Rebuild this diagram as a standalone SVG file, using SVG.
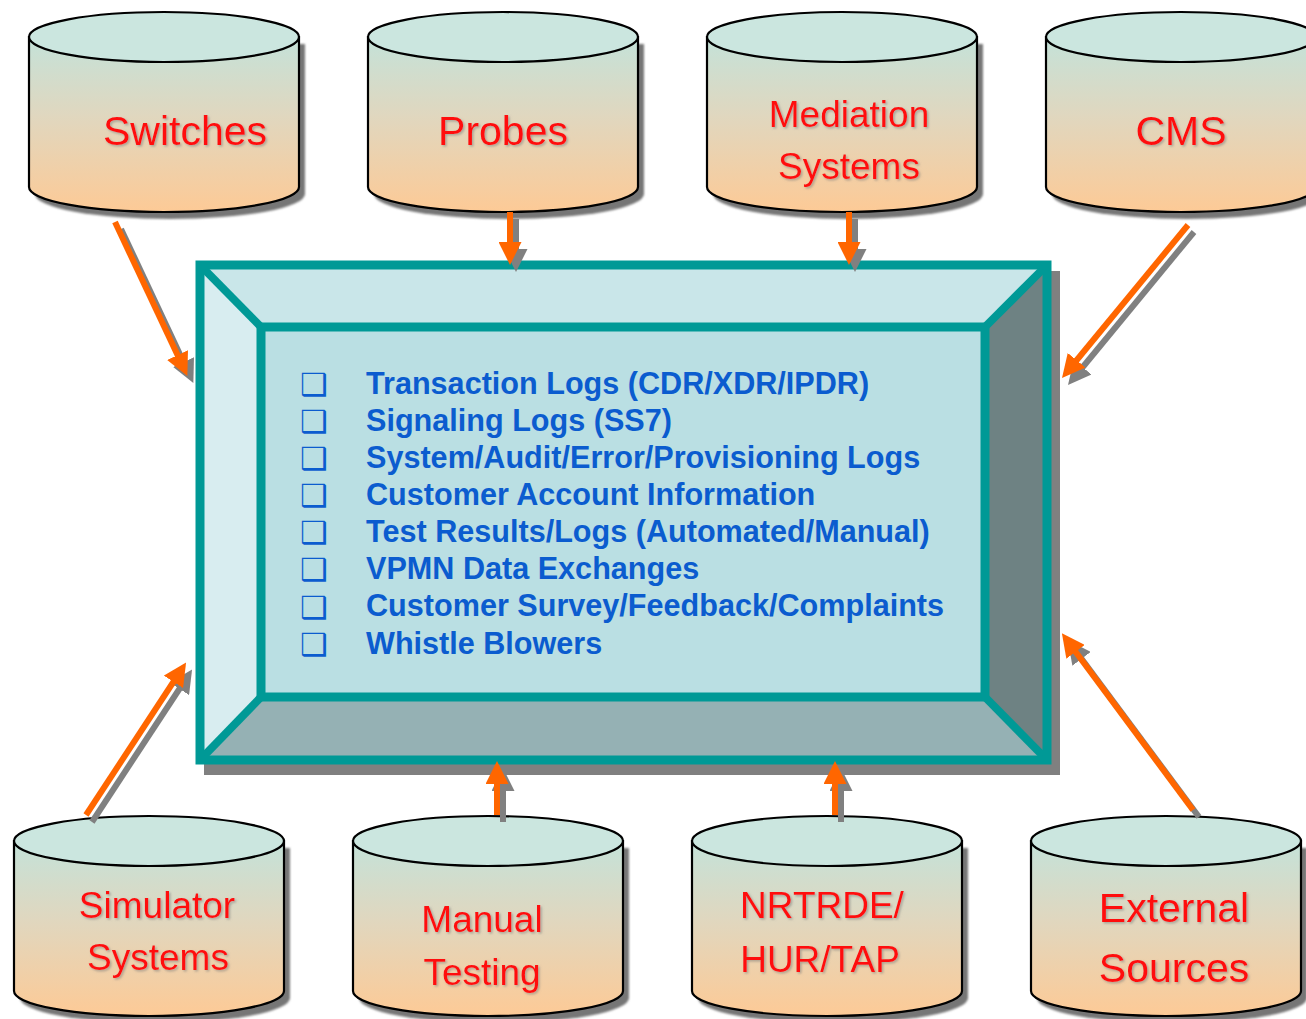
<svg xmlns="http://www.w3.org/2000/svg" width="1306" height="1019" viewBox="0 0 1306 1019">
  <style>
    .cyl-body { fill: url(#cylGrad); stroke: #000; stroke-width: 2.2; }
    .cyl-top { fill: #cbe6df; stroke: #000; stroke-width: 2.2; }
    .cyl-shadow { fill: #767676; filter: url(#soft); }
    .label { font-family: "Liberation Sans", Arial, sans-serif; fill: #ff1010; text-anchor: middle; filter: url(#txtShadow); }
    .big { font-size: 41px; }
    .mid { font-size: 37px; }
    .item { font-family: "Liberation Sans", Arial, sans-serif; font-weight: bold; font-size: 30.6px; fill: #0b5ccf; }
    .bullet { font-family: "DejaVu Sans", sans-serif; font-size: 31px; fill: #0b5ccf; }
    .edge { stroke: #009996; stroke-width: 9; fill: none; }
    .diag { stroke: #009996; stroke-width: 8; }
    .arrow { stroke: #ff6600; stroke-width: 6; fill: none; marker-end: url(#headOrange); }
    .arrow-sh { stroke: #808080; stroke-width: 6; fill: none; marker-end: url(#headGrey); }
  </style>
  <defs>
    <linearGradient id="cylGrad" x1="0" y1="0" x2="0" y2="1">
      <stop offset="0" stop-color="#c4e2d9"/>
      <stop offset="0.45" stop-color="#e0d7bf"/>
      <stop offset="1" stop-color="#fdca96"/>
    </linearGradient>
    <filter id="soft" x="-10%" y="-10%" width="120%" height="120%">
      <feGaussianBlur stdDeviation="1.2"/>
    </filter>
    <filter id="txtShadow" x="-10%" y="-10%" width="120%" height="130%">
      <feDropShadow dx="1.5" dy="1.5" stdDeviation="0.8" flood-color="#777" flood-opacity="0.55"/>
    </filter>
    <marker id="headOrange" markerUnits="userSpaceOnUse" markerWidth="23" markerHeight="23" refX="1" refY="11.5" orient="auto">
      <path d="M0,0 L23,11.5 L0,23 Z" fill="#ff6600"/>
    </marker>
    <marker id="headGrey" markerUnits="userSpaceOnUse" markerWidth="23" markerHeight="23" refX="1" refY="11.5" orient="auto">
      <path d="M0,0 L23,11.5 L0,23 Z" fill="#808080"/>
    </marker>
    <!-- cylinder outline: 270 wide, ellipse ry 25, 150 tall between ellipse centres -->
    <path id="cylBody" d="M0,25 L0,175 A135,25 0 0 0 270,175 L270,25 Z"/>
    <ellipse id="cylTop" cx="135" cy="25" rx="135" ry="25"/>
  </defs>

  <!-- central repository box -->
  <g id="hub">
    <rect x="204" y="271" width="856" height="504" fill="#808080"/>
    <polygon points="200,265 1047,265 985,327 261,327" fill="#c9e6e9"/>
    <polygon points="200,265 261,327 261,697 200,760" fill="#d8edf0"/>
    <polygon points="1047,265 1047,760 985,697 985,327" fill="#6e8283"/>
    <polygon points="200,760 261,697 985,697 1047,760" fill="#95b1b4"/>
    <rect x="261" y="327" width="724" height="370" fill="#badfe3"/>
    <line class="diag" x1="200" y1="265" x2="261" y2="327"/>
    <line class="diag" x1="1047" y1="265" x2="985" y2="327"/>
    <line class="diag" x1="200" y1="760" x2="261" y2="697"/>
    <line class="diag" x1="1047" y1="760" x2="985" y2="697"/>
    <rect class="edge" x="200" y="265" width="847" height="495"/>
    <rect class="edge" x="261" y="327" width="724" height="370"/>
    <g class="bullet">
      <text x="300" y="395">❑</text>
      <text x="300" y="432">❑</text>
      <text x="300" y="469">❑</text>
      <text x="300" y="506">❑</text>
      <text x="300" y="543">❑</text>
      <text x="300" y="580">❑</text>
      <text x="300" y="618">❑</text>
      <text x="300" y="655">❑</text>
    </g>
    <g class="item">
      <text x="366" y="394">Transaction Logs (CDR/XDR/IPDR)</text>
      <text x="366" y="431">Signaling Logs (SS7)</text>
      <text x="366" y="468">System/Audit/Error/Provisioning Logs</text>
      <text x="366" y="505">Customer Account Information</text>
      <text x="366" y="542">Test Results/Logs (Automated/Manual)</text>
      <text x="366" y="579">VPMN Data Exchanges</text>
      <text x="366" y="616">Customer Survey/Feedback/Complaints</text>
      <text x="366" y="654">Whistle Blowers</text>
    </g>
  </g>

  <!-- data sources, top row -->
  <g id="switches" transform="translate(29,12)">
    <use href="#cylBody" class="cyl-shadow" transform="translate(6,7)"/>
    <use href="#cylBody" class="cyl-body"/>
    <use href="#cylTop" class="cyl-top"/>
    <text class="label big" x="156" y="133">Switches</text>
  </g>
  <g id="probes" transform="translate(368,12)">
    <use href="#cylBody" class="cyl-shadow" transform="translate(6,7)"/>
    <use href="#cylBody" class="cyl-body"/>
    <use href="#cylTop" class="cyl-top"/>
    <text class="label big" x="135" y="133">Probes</text>
  </g>
  <g id="mediation" transform="translate(707,12)">
    <use href="#cylBody" class="cyl-shadow" transform="translate(6,7)"/>
    <use href="#cylBody" class="cyl-body"/>
    <use href="#cylTop" class="cyl-top"/>
    <text class="label mid" x="142" y="115">Mediation</text>
    <text class="label mid" x="142" y="167">Systems</text>
  </g>
  <g id="cms" transform="translate(1046,12)">
    <use href="#cylBody" class="cyl-shadow" transform="translate(6,7)"/>
    <use href="#cylBody" class="cyl-body"/>
    <use href="#cylTop" class="cyl-top"/>
    <text class="label big" x="135" y="133">CMS</text>
  </g>

  <!-- data sources, bottom row -->
  <g id="simulator" transform="translate(14,816)">
    <use href="#cylBody" class="cyl-shadow" transform="translate(6,7)"/>
    <use href="#cylBody" class="cyl-body"/>
    <use href="#cylTop" class="cyl-top"/>
    <text class="label mid" x="143" y="102">Simulator</text>
    <text class="label mid" x="144" y="154">Systems</text>
  </g>
  <g id="manual" transform="translate(353,816)">
    <use href="#cylBody" class="cyl-shadow" transform="translate(6,7)"/>
    <use href="#cylBody" class="cyl-body"/>
    <use href="#cylTop" class="cyl-top"/>
    <text class="label mid" x="129" y="116">Manual</text>
    <text class="label mid" x="129" y="169">Testing</text>
  </g>
  <g id="nrtrde" transform="translate(692,816)">
    <use href="#cylBody" class="cyl-shadow" transform="translate(6,7)"/>
    <use href="#cylBody" class="cyl-body"/>
    <use href="#cylTop" class="cyl-top"/>
    <text class="label mid" x="130" y="102">NRTRDE/</text>
    <text class="label mid" x="128" y="156">HUR/TAP</text>
  </g>
  <g id="external" transform="translate(1031,816)">
    <use href="#cylBody" class="cyl-shadow" transform="translate(6,7)"/>
    <use href="#cylBody" class="cyl-body"/>
    <use href="#cylTop" class="cyl-top"/>
    <text class="label big" x="143" y="106">External</text>
    <text class="label big" x="143" y="166">Sources</text>
  </g>

  <!-- feeds into the central box: grey shadow first, orange on top -->
  <g id="connectors">
    <g transform="translate(6,7)">
      <line class="arrow-sh" x1="115" y1="222" x2="178" y2="356"/>
      <line class="arrow-sh" x1="510" y1="212" x2="510" y2="243"/>
      <line class="arrow-sh" x1="849" y1="212" x2="849" y2="243"/>
      <line class="arrow-sh" x1="1188" y1="225" x2="1076" y2="361"/>
      <line class="arrow-sh" x1="86" y1="815" x2="174" y2="681"/>
      <line class="arrow-sh" x1="497" y1="815" x2="497" y2="783"/>
      <line class="arrow-sh" x1="835" y1="815" x2="835" y2="783"/>
      <line class="arrow-sh" x1="1193" y1="810" x2="1075" y2="651"/>
    </g>
    <line class="arrow" x1="115" y1="222" x2="178" y2="356"/>
    <line class="arrow" x1="510" y1="212" x2="510" y2="243"/>
    <line class="arrow" x1="849" y1="212" x2="849" y2="243"/>
    <line class="arrow" x1="1188" y1="225" x2="1076" y2="361"/>
    <line class="arrow" x1="86" y1="815" x2="174" y2="681"/>
    <line class="arrow" x1="497" y1="815" x2="497" y2="783"/>
    <line class="arrow" x1="835" y1="815" x2="835" y2="783"/>
    <line class="arrow" x1="1193" y1="810" x2="1075" y2="651"/>
  </g>
</svg>
